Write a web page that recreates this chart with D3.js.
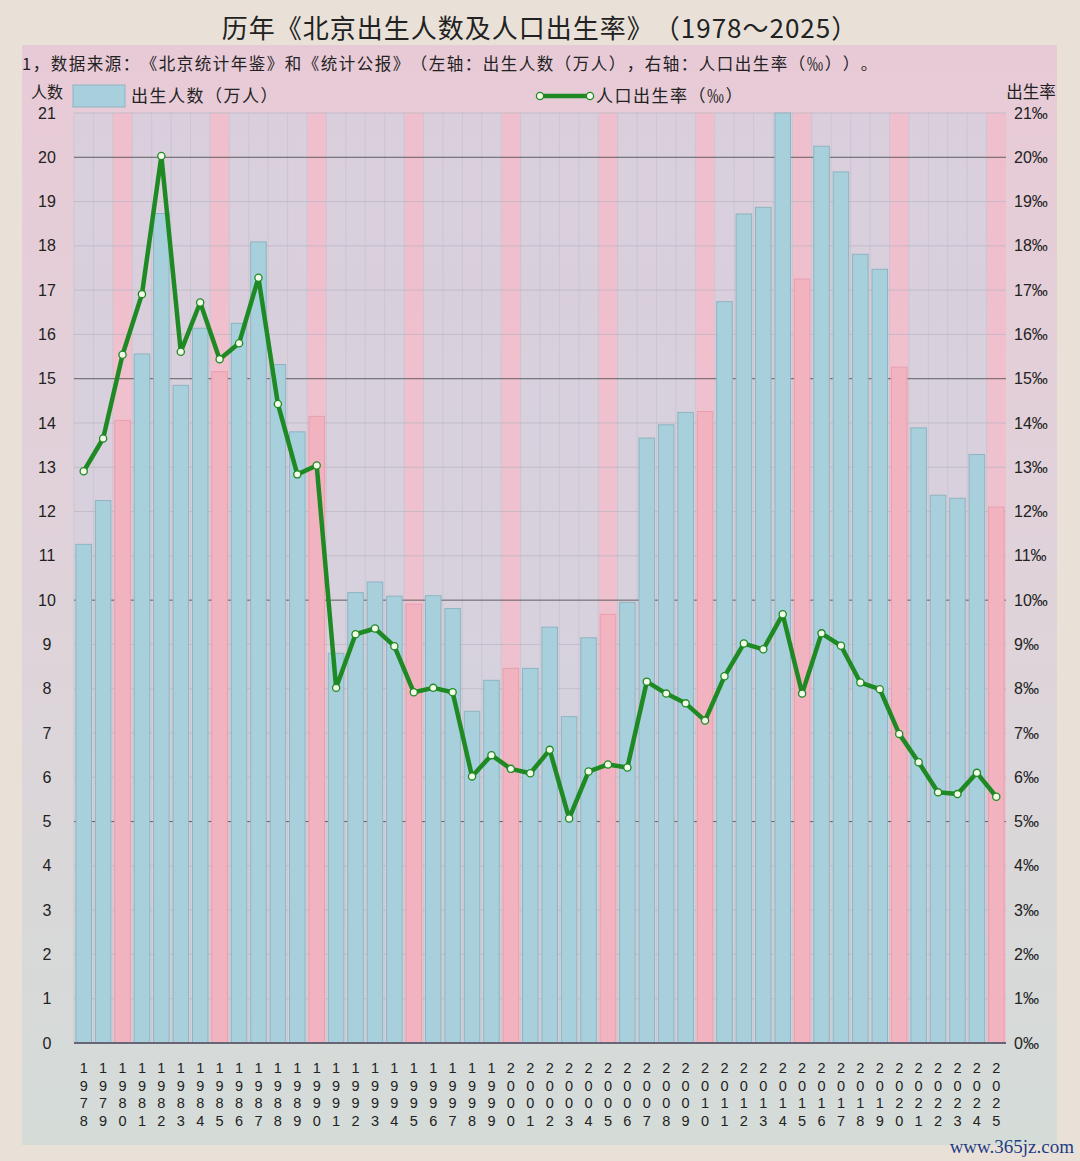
<!DOCTYPE html>
<html>
<head>
<meta charset="utf-8">
<script src="https://cdn.jsdelivr.net/npm/d3@7"></script>
<style>
  body { margin: 0; background: #e9e1d8; }
  svg { text-spacing-trim: space-all; font-family: "Noto Sans CJK SC", "Noto Sans", sans-serif; }
  text { text-spacing-trim: space-all; }
</style>
</head>
<body>
<div id="chart-area"></div>
<script>
// data
var years = [1978,1979,1980,1981,1982,1983,1984,1985,1986,1987,1988,1989,
             1990,1991,1992,1993,1994,1995,1996,1997,1998,1999,
             2000,2001,2002,2003,2004,2005,2006,2007,2008,2009,
             2010,2011,2012,2013,2014,2015,2016,2017,2018,2019,
             2020,2021,2022,2023,2024,2025];

// 出生人数（万人）
var births = [11.26,12.25,14.06,15.56,18.73,14.85,16.14,15.16,16.25,18.09,15.32,13.80,
              14.15,8.80,10.17,10.41,10.09,9.91,10.10,9.81,7.49,8.19,
              8.46,8.46,9.39,7.37,9.15,9.68,9.95,13.66,13.96,14.24,
              14.26,16.74,18.72,18.87,21.00,17.25,20.25,19.67,17.81,17.47,
              15.26,13.89,12.37,12.30,13.29,12.10];

// 人口出生率（‰）
var rates = [12.91,13.65,15.54,16.91,20.03,15.61,16.72,15.44,15.80,17.28,14.43,12.84,
             13.04,8.02,9.23,9.36,8.96,7.92,8.02,7.92,6.02,6.50,
             6.19,6.09,6.62,5.07,6.13,6.29,6.22,8.16,7.89,7.67,
             7.28,8.28,9.02,8.89,9.68,7.89,9.25,8.97,8.14,7.99,
             6.98,6.34,5.66,5.62,6.10,5.56];

var leftTicks = d3.range(0, 22);
var rightTicks = d3.range(0, 22);

var numFont = "'Liberation Sans', Arial, sans-serif";

var W = 1080, H = 1161;
var margin = {top: 113, right: 74, bottom: 116, left: 74};
var width = W - margin.left - margin.right;
var height = H - margin.top - margin.bottom - 2;

var svg = d3.select("#chart-area").append("svg")
            .attr("width", W)
            .attr("height", H);

var defs = svg.append("defs");
var grad = defs.append("linearGradient")
               .attr("id", "panelGrad")
               .attr("x1", 0).attr("y1", 0)
               .attr("x2", 0).attr("y2", 1);
grad.append("stop").attr("offset", "0%").attr("stop-color", "#e8cad6");
grad.append("stop").attr("offset", "45%").attr("stop-color", "#e0d2da");
grad.append("stop").attr("offset", "100%").attr("stop-color", "#d4dcd8");

// panel background
svg.append("rect")
   .attr("x", 22).attr("y", 45)
   .attr("width", 1035).attr("height", 1100)
   .attr("fill", "url(#panelGrad)");

// title
svg.append("text")
   .attr("x", 540).attr("y", 38)
   .attr("text-anchor", "middle")
   .attr("font-size", "26px")
   .attr("letter-spacing", "1px")
   .attr("fill", "#222")
   .text("历年《北京出生人数及人口出生率》（1978～2025）");

svg.append("text")
   .attr("x", 22).attr("y", 70)
   .attr("font-size", "16.5px")
   .attr("letter-spacing", "1.5px")
   .attr("fill", "#222")
   .text("1，数据来源：《北京统计年鉴》和《统计公报》（左轴：出生人数（万人），右轴：人口出生率（‰））。");

var g = svg.append("g")
           .attr("transform", "translate(" + margin.left + ", " + margin.top + ")");

var x = d3.scaleBand()
          .domain(years)
          .range([0, width])
          .paddingInner(0.2)
          .paddingOuter(0.1);

var y = d3.scaleLinear()
          .domain([0, 21])
          .range([height, 0]);

var y2 = d3.scaleLinear()
           .domain([0, 21])
           .range([height, 0]);

var step = x.step();
function isPink(yr) { return yr % 5 === 0; }

// column stripes
g.selectAll("rect.stripe")
 .data(years)
 .enter().append("rect")
 .attr("class", "stripe")
 .attr("x", (d) => { return x(d) - step * 0.1; })
 .attr("y", 0)
 .attr("width", step)
 .attr("height", height)
 .attr("fill", (d) => { return isPink(d) ? "#f2bccb" : "#d2d1e0"; })
 .attr("opacity", (d) => { return isPink(d) ? 0.8 : 0.6; });

g.selectAll("line.vsep")
 .data(years)
 .enter().append("line")
 .attr("class", "vsep")
 .attr("x1", (d) => { return x(d) - step * 0.1; })
 .attr("x2", (d) => { return x(d) - step * 0.1; })
 .attr("y1", 0).attr("y2", height)
 .attr("stroke", "#c9c7d2")
 .attr("stroke-width", 1);

// horizontal grid
g.selectAll("line.grid")
 .data(leftTicks)
 .enter().append("line")
 .attr("class", "grid")
 .attr("x1", 0).attr("x2", width)
 .attr("y1", (d) => { return y(d); })
 .attr("y2", (d) => { return y(d); })
 .attr("stroke", (d) => { return d % 5 === 0 ? "#555" : "#b9b5c2"; })
 .attr("stroke-width", (d) => { return d === 0 ? 2 : 1; })
 .attr("opacity", (d) => { return d % 5 === 0 ? 0.9 : 0.7; });

// bars
g.selectAll("rect.bar")
 .data(births)
 .enter().append("rect")
 .attr("class", "bar")
 .attr("x", (d, i) => { return x(years[i]); })
 .attr("y", (d) => { return y(d); })
 .attr("width", x.bandwidth())
 .attr("height", (d) => { return height - y(d); })
 .attr("fill", (d, i) => { return isPink(years[i]) ? "#f1b3c0" : "#a7d0dc"; })
 .attr("stroke", (d, i) => { return isPink(years[i]) ? "#e7a0b0" : "#8fb4c0"; })
 .attr("stroke-width", 1);

// zero line on top of bars
g.append("line")
 .attr("x1", 0).attr("x2", width)
 .attr("y1", height).attr("y2", height)
 .attr("stroke", "#667")
 .attr("stroke-width", 2);

// birth rate line
var line = d3.line()
             .x((d, i) => { return x(years[i]) + x.bandwidth() / 2; })
             .y((d) => { return y2(d); });

g.append("path")
 .datum(rates)
 .attr("d", line)
 .attr("fill", "none")
 .attr("stroke", "#1f8a24")
 .attr("stroke-width", 4.5)
 .attr("stroke-linejoin", "round");

g.selectAll("circle.pt")
 .data(rates)
 .enter().append("circle")
 .attr("class", "pt")
 .attr("cx", (d, i) => { return x(years[i]) + x.bandwidth() / 2; })
 .attr("cy", (d) => { return y2(d); })
 .attr("r", 3.6)
 .attr("fill", "#f4fbe8")
 .attr("stroke", "#1f8a24")
 .attr("stroke-width", 1.3);

// left axis
var leftAxis = d3.axisLeft(y).tickValues(leftTicks).tickSize(0).tickPadding(0);
var yAxisGroup = g.append("g").attr("class", "y-axis").call(leftAxis);
yAxisGroup.select(".domain").remove();
yAxisGroup.selectAll("text")
          .attr("x", -27)
          .attr("text-anchor", "middle")
          .style("font-family", numFont)
          .style("font-size", "16px")
          .attr("fill", "#222");

// right axis
var rightAxis = d3.axisRight(y2).tickValues(rightTicks).tickSize(0).tickPadding(0)
                  .tickFormat((d) => { return d + "‰"; });
var y2AxisGroup = g.append("g")
                   .attr("class", "y2-axis")
                   .attr("transform", "translate(" + width + ", 0)")
                   .call(rightAxis);
y2AxisGroup.select(".domain").remove();
y2AxisGroup.selectAll("text")
           .attr("x", 8)
           .style("font-family", numFont)
           .style("font-size", "16px")
           .attr("fill", "#222");

// x axis labels, digits stacked vertically
var xAxisGroup = g.append("g")
                  .attr("class", "x axis")
                  .attr("transform", "translate(0, " + height + ")");
var xl = xAxisGroup.selectAll("text")
                   .data(years)
                   .enter().append("text")
                   .attr("text-anchor", "middle")
                   .style("font-family", numFont)
                   .style("font-size", "14.5px")
                   .attr("fill", "#222");
xl.each(function(d) {
  var t = d3.select(this);
  String(d).split("").forEach((c, k) => {
    t.append("tspan")
     .attr("x", x(d) + x.bandwidth() / 2)
     .attr("y", 30 + k * 17.5)
     .text(c);
  });
});

// axis titles
svg.append("text")
   .attr("x", 47).attr("y", 98)
   .attr("text-anchor", "middle")
   .attr("font-size", "16px")
   .attr("fill", "#222")
   .text("人数");

svg.append("text")
   .attr("x", 1031).attr("y", 98)
   .attr("text-anchor", "middle")
   .attr("font-size", "16.5px")
   .attr("fill", "#222")
   .text("出生率");

// legend
svg.append("rect")
   .attr("x", 73).attr("y", 85)
   .attr("width", 52).attr("height", 22)
   .attr("fill", "#a7d0dc")
   .attr("stroke", "#8fb4c0");
svg.append("text")
   .attr("x", 131).attr("y", 102)
   .attr("font-size", "17px")
   .attr("letter-spacing", "1.5px")
   .attr("fill", "#222")
   .text("出生人数（万人）");

svg.append("line")
   .attr("x1", 540).attr("x2", 590)
   .attr("y1", 96).attr("y2", 96)
   .attr("stroke", "#1f8a24")
   .attr("stroke-width", 4.5);
svg.selectAll("circle.leg")
   .data([540, 590])
   .enter().append("circle")
   .attr("class", "leg")
   .attr("cx", (d) => { return d; })
   .attr("cy", 96)
   .attr("r", 3.6)
   .attr("fill", "#f4fbe8")
   .attr("stroke", "#1f8a24")
   .attr("stroke-width", 1.3);
svg.append("text")
   .attr("x", 596).attr("y", 102)
   .attr("font-size", "17px")
   .attr("letter-spacing", "1.5px")
   .attr("fill", "#222")
   .text("人口出生率（‰）");

// site mark
svg.append("text")
   .attr("x", 1074).attr("y", 1153)
   .attr("text-anchor", "end")
   .style("font-family", "'Liberation Serif', serif")
   .style("font-size", "19px")
   .attr("fill", "#1d3d86")
   .text("www.365jz.com");
</script>
</body>
</html>
